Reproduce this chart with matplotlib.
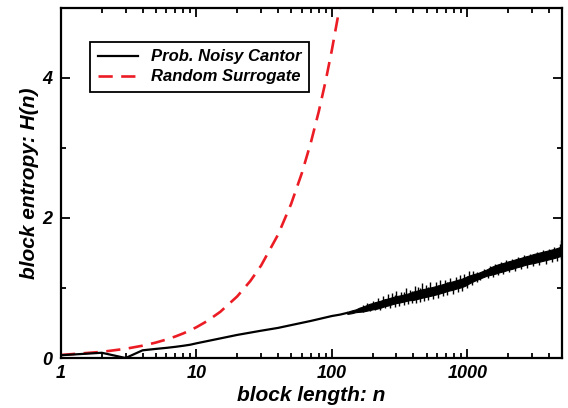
import matplotlib
matplotlib.use("Agg")
import matplotlib.pyplot as plt
from matplotlib.ticker import FixedLocator, FixedFormatter, LogLocator, NullFormatter

plt.rcParams['font.family'] = ['Liberation Sans', 'DejaVu Sans']
plt.rcParams['font.weight'] = 'bold'
plt.rcParams['font.style'] = 'italic'

# ---- data ----
x_ticks = [1, 10, 100, 1000]
x_tick_labels = ["1", "10", "100", "1000"]
y_ticks = [0, 2, 4]
y_tick_labels = ["0", "2", "4"]
y_minor = [1, 3]

# Random surrogate (red dashed)
n_rand = [1, 2, 3, 4, 5, 6, 7, 8, 9, 10, 12, 15, 20, 25, 30, 40, 50, 60, 70, 80, 90, 100, 110, 120]
H_rand = [0.044, 0.088, 0.132, 0.176, 0.22, 0.264, 0.308, 0.352, 0.396, 0.44, 0.528, 0.66, 0.88,
          1.10, 1.32, 1.76, 2.20, 2.64, 3.08, 3.52, 3.96, 4.40, 4.84, 5.28]

# Prob. noisy Cantor (black): smooth part
n_cantor = [1, 2, 3, 4, 5, 6, 7, 8, 9, 10, 15, 20, 30, 40, 50, 70, 100, 115, 130]
H_cantor = [0.04, 0.075, 0.0, 0.11, 0.13, 0.145, 0.16, 0.175, 0.19, 0.21, 0.28, 0.33, 0.39,
            0.43, 0.47, 0.53, 0.60, 0.62, 0.645]

# Prob. noisy Cantor (black): noisy part, core band envelope
n_noisy = [130, 140, 150, 160, 170, 180, 190, 200, 215, 230, 245, 260, 280, 300, 320, 345, 370,
           400, 430, 460, 500, 540, 580, 620, 670, 720, 780, 840, 900, 970, 1040, 1120, 1200,
           1290, 1390, 1500, 1610, 1730, 1860, 2000, 2150, 2310, 2480, 2670, 2870, 3080, 3310,
           3560, 3830, 4110, 4420, 4750, 5000]
H_noisy_up = [0.66, 0.68, 0.695, 0.72, 0.735, 0.755, 0.775, 0.785, 0.805, 0.82, 0.84, 0.85,
              0.87, 0.885, 0.895, 0.91, 0.925, 0.95, 0.965, 0.98, 0.995, 1.01, 1.025, 1.04,
              1.06, 1.08, 1.095, 1.115, 1.13, 1.155, 1.18, 1.20, 1.215, 1.24, 1.265, 1.30,
              1.325, 1.345, 1.36, 1.38, 1.395, 1.415, 1.43, 1.45, 1.465, 1.485, 1.50, 1.515,
              1.53, 1.545, 1.56, 1.58, 1.60]
H_noisy_low = [0.63, 0.64, 0.655, 0.66, 0.665, 0.675, 0.685, 0.695, 0.705, 0.72, 0.74, 0.75,
               0.77, 0.785, 0.795, 0.81, 0.825, 0.83, 0.845, 0.86, 0.875, 0.89, 0.905, 0.92,
               0.94, 0.96, 0.975, 0.995, 1.01, 1.035, 1.07, 1.10, 1.125, 1.15, 1.175, 1.19,
               1.205, 1.225, 1.24, 1.26, 1.275, 1.295, 1.31, 1.33, 1.345, 1.355, 1.37, 1.385,
               1.40, 1.415, 1.43, 1.45, 1.46]

# Prob. noisy Cantor (black): noise spikes (n, lowest, highest)
n_spike = [170, 182, 190, 200, 208, 218, 226, 238, 248, 258, 268, 278, 290, 300, 312, 325, 338,
           352, 362, 378, 392, 408, 418, 432, 450, 462, 478, 495, 515, 530, 560, 585, 605, 630,
           660, 690, 710, 750, 790, 820, 860, 890, 920, 950, 1000, 1030, 1080, 1110, 1170, 1250,
           1330, 1420, 1480, 1540, 1600, 1680, 1760, 1830, 1930, 2030, 2120, 2250, 2380, 2500,
           2620, 2780, 2900, 3050, 3250, 3400, 3600, 3780, 3990, 4200, 4380, 4600, 4820, 4950]
H_spike_lo = [0.66, 0.72, 0.67, 0.74, 0.68, 0.76, 0.69, 0.78, 0.71, 0.80, 0.72, 0.815, 0.73,
              0.835, 0.75, 0.85, 0.76, 0.865, 0.77, 0.88, 0.78, 0.895, 0.79, 0.905, 0.80, 0.92,
              0.82, 0.93, 0.83, 0.945, 0.85, 0.965, 0.86, 0.985, 0.88, 1.01, 0.90, 1.03, 0.92,
              1.05, 0.95, 1.065, 0.96, 1.09, 1.00, 1.12, 1.04, 1.145, 1.08, 1.11, 1.20, 1.15,
              1.24, 1.16, 1.26, 1.18, 1.29, 1.20, 1.31, 1.23, 1.33, 1.24, 1.36, 1.27, 1.385,
              1.29, 1.41, 1.31, 1.43, 1.33, 1.45, 1.35, 1.475, 1.37, 1.49, 1.39, 1.52, 1.42]
H_spike_hi = [0.76, 0.79, 0.73, 0.82, 0.80, 0.86, 0.77, 0.88, 0.85, 0.92, 0.81, 0.93, 0.90,
              0.96, 0.84, 0.94, 0.95, 1.00, 0.87, 0.97, 0.96, 1.03, 0.90, 1.02, 1.00, 1.07,
              0.925, 1.04, 1.02, 1.08, 0.955, 1.09, 1.04, 1.11, 1.00, 1.12, 1.09, 1.14, 1.04,
              1.16, 1.12, 1.19, 1.075, 1.20, 1.17, 1.24, 1.14, 1.25, 1.23, 1.18, 1.27, 1.23,
              1.32, 1.25, 1.35, 1.275, 1.37, 1.30, 1.40, 1.325, 1.42, 1.345, 1.44, 1.37, 1.47,
              1.40, 1.49, 1.42, 1.51, 1.44, 1.54, 1.46, 1.56, 1.485, 1.58, 1.505, 1.63, 1.68]

labels = ["Prob. Noisy Cantor", "Random Surrogate"]
red = '#ec1c24'

fig = plt.figure(figsize=(5.68, 4.08), dpi=100)
ax = fig.add_axes([0.1074, 0.1225, 0.882, 0.858])

ax.plot(n_cantor, H_cantor, color='black', lw=1.6, label=labels[0], zorder=3)
ax.fill_between(n_noisy, H_noisy_low, H_noisy_up, color='black', lw=0.8, edgecolor='black', zorder=3)
ax.vlines(n_spike, H_spike_lo, H_spike_hi, color='black', lw=1.0, zorder=3)
ax.plot(n_rand, H_rand, color=red, lw=1.9, dashes=(5.4, 3.2), label=labels[1], zorder=2)

ax.set_xscale('log')
ax.set_xlim(1, 5000)
ax.set_ylim(0, 5)

ax.xaxis.set_major_locator(FixedLocator(x_ticks))
ax.xaxis.set_major_formatter(FixedFormatter(x_tick_labels))
ax.xaxis.set_minor_locator(LogLocator(base=10, subs=[2, 3, 4, 5, 6, 7, 8, 9], numticks=20))
ax.xaxis.set_minor_formatter(NullFormatter())
ax.yaxis.set_major_locator(FixedLocator(y_ticks))
ax.yaxis.set_major_formatter(FixedFormatter(y_tick_labels))
ax.yaxis.set_minor_locator(FixedLocator(y_minor))

ax.tick_params(which='both', direction='in', top=True, right=True, width=1.3, labelsize=13)
ax.tick_params(which='major', length=6.5)
ax.tick_params(which='minor', length=3.5)
ax.tick_params(axis='x', pad=5)
ax.tick_params(axis='y', pad=6)
for s in ax.spines.values():
    s.set_linewidth(1.6)

ax.set_xlabel("block length: n", fontsize=15, fontweight='bold', fontstyle='italic', labelpad=3)
ax.set_ylabel("block entropy: H(n)", fontsize=15, fontweight='bold', fontstyle='italic', labelpad=3)

leg = ax.legend(loc='upper left', bbox_to_anchor=(0.058, 0.903), borderaxespad=0,
                fancybox=False, frameon=True, edgecolor='black', fontsize=12,
                handlelength=2.4, labelspacing=0.3, borderpad=0.45, handletextpad=0.8)
leg.get_frame().set_linewidth(1.3)
leg.get_frame().set_alpha(1)

fig.savefig("out.png", dpi=100)
